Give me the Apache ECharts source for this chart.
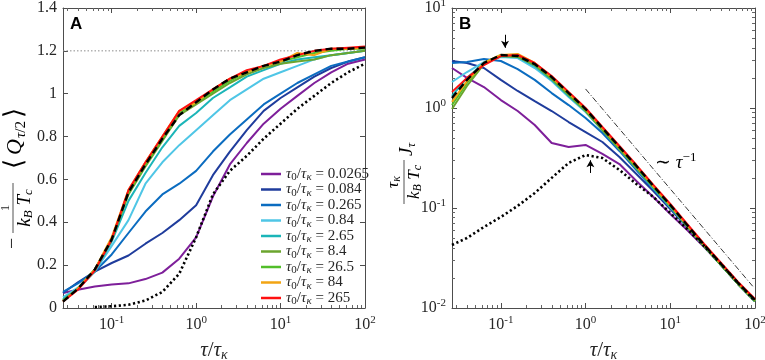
<!DOCTYPE html>
<html><head><meta charset="utf-8">
<script src="https://cdn.jsdelivr.net/npm/echarts@6/dist/echarts.min.js"></script>
<style>html,body{margin:0;padding:0;background:#fff}#c{width:765px;height:360px}</style>
</head><body><div id="c"></div>
<script>
// ---------------- DATA ----------------
const tau = [0.0265,0.0398,0.0631,0.1,0.158,0.251,0.398,0.631,1,1.58,2.51,3.98,6.31,10,15.8,25.1,39.8,63.1,100];
const ratios = ['0.0265','0.084','0.265','0.84','2.65','8.4','26.5','84','265'];
const colors = ['#7E1F9A','#1F3C9C','#0B6CC0','#4FC6E6','#1BB5B8','#6BA52E','#52BE2A','#F2A413','#FF1010'];

// Panel A: -<Q_{tau/2}>/(kB Tc)
const qA_0265 = [0.07,0.085,0.10,0.11,0.115,0.135,0.165,0.23,0.33,0.52,0.67,0.77,0.86,0.93,0.99,1.05,1.10,1.14,1.16];
const qA_084  = [0.07,0.12,0.17,0.21,0.245,0.30,0.35,0.41,0.48,0.62,0.73,0.83,0.92,0.98,1.03,1.08,1.12,1.15,1.17];
const qA_265m = [0.075,0.115,0.17,0.25,0.35,0.45,0.53,0.58,0.64,0.73,0.81,0.88,0.95,1.00,1.05,1.09,1.13,1.15,1.17];
const qA_84m  = [0.05,0.095,0.17,0.29,0.41,0.58,0.68,0.76,0.83,0.90,0.97,1.02,1.07,1.10,1.13,1.16,1.18,1.19,1.20];
const qA_265  = [0.04,0.09,0.17,0.31,0.50,0.63,0.75,0.85,0.91,0.98,1.03,1.08,1.11,1.14,1.16,1.17,1.18,1.19,1.20];
const qA_8p4  = [0.035,0.09,0.18,0.32,0.53,0.66,0.78,0.90,0.95,1.00,1.05,1.09,1.12,1.14,1.15,1.16,1.18,1.19,1.20];
const qA_26p5 = [0.035,0.09,0.18,0.32,0.54,0.67,0.79,0.91,0.96,1.01,1.06,1.10,1.13,1.15,1.17,1.19,1.20,1.21,1.21];
const qA_84   = [0.03,0.09,0.18,0.33,0.55,0.68,0.80,0.92,0.96,1.02,1.07,1.10,1.13,1.15,1.19,1.18,1.21,1.21,1.215];
const qA_265b = [0.03,0.085,0.175,0.32,0.55,0.68,0.80,0.92,0.97,1.02,1.07,1.11,1.13,1.16,1.18,1.20,1.21,1.215,1.22];
const qA_dash = [0.03,0.09,0.18,0.32,0.54,0.67,0.79,0.90,0.96,1.02,1.07,1.10,1.13,1.15,1.18,1.20,1.21,1.21,1.215];
const qA_dot  = [null,null,0.004,0.008,0.015,0.035,0.075,0.16,0.33,0.53,0.64,0.71,0.79,0.86,0.93,0.99,1.05,1.10,1.14];
const qA_limit = 1.2;

// Panel B: tau_k/(kB Tc) J_tau
const jB_0265 = [2.51,2.0,1.62,1.20,0.933,0.676,0.447,0.407,0.427,0.347,0.275,0.186,0.129,0.0871,0.0603,0.0407,0.0269,0.0174,0.0117];
const jB_084  = [2.95,2.82,2.51,1.91,1.48,1.17,0.933,0.724,0.575,0.457,0.324,0.219,0.148,0.0977,0.0646,0.0417,0.0269,0.0174,0.0117];
const jB_265m = [2.82,2.88,3.09,2.95,2.45,1.91,1.41,1.07,0.794,0.562,0.372,0.240,0.155,0.102,0.0661,0.0417,0.0269,0.0174,0.0117];
const jB_84m  = [1.82,2.29,2.88,3.24,3.16,2.51,1.86,1.29,0.912,0.603,0.389,0.251,0.158,0.102,0.0661,0.0417,0.0269,0.0174,0.0117];
const jB_265  = [1.32,2.0,2.82,3.31,3.24,2.63,1.91,1.32,0.933,0.603,0.389,0.251,0.158,0.102,0.0661,0.0417,0.0269,0.0174,0.0117];
const jB_8p4  = [0.977,1.66,2.75,3.31,3.24,2.69,1.95,1.35,0.933,0.603,0.389,0.251,0.162,0.105,0.0661,0.0417,0.0269,0.0174,0.0117];
const jB_26p5 = [1.07,1.78,2.82,3.39,3.31,2.75,2.0,1.38,0.955,0.617,0.398,0.257,0.162,0.105,0.0661,0.0417,0.0269,0.0174,0.0117];
const jB_84   = [1.15,1.86,2.82,3.39,3.47,2.82,2.04,1.41,0.977,0.631,0.407,0.263,0.166,0.107,0.0676,0.0427,0.0275,0.0178,0.0120];
const jB_265b = [1.45,2.0,2.69,3.31,3.39,2.82,2.09,1.45,1.0,0.646,0.417,0.269,0.170,0.110,0.0692,0.0437,0.0282,0.0182,0.0123];
const jB_dash = [1.26,1.91,2.82,3.39,3.31,2.75,2.04,1.41,0.977,0.631,0.407,0.263,0.166,0.107,0.0676,0.0427,0.0275,0.0178,0.0120];
const jB_dot  = [0.0427,0.0501,0.0646,0.0813,0.105,0.141,0.200,0.282,0.339,0.316,0.240,0.174,0.129,0.0891,0.0617,0.0417,0.0275,0.0178,0.0117];
const powerLawTau = [1, 94];
const powerLawJ = [1.55, 0.0165];
const arrowPeakTau = [0.112, 0.112], arrowPeakJ = [5.4, 4.0];
const arrowDotTau = [1.14, 1.14], arrowDotJ = [0.224, 0.30];

const xMin = 0.0265, xMax = 100;
const yBMin = 0.01, yBMax = 10;
const yATicks = [0,0.2,0.4,0.6,0.8,1,1.2,1.4];
const xMinor = [0.03,0.04,0.05,0.06,0.07,0.08,0.09,0.2,0.3,0.4,0.5,0.6,0.7,0.8,0.9,2,3,4,5,6,7,8,9,20,30,40,50,60,70,80,90];
const yBMinor = [0.02,0.03,0.04,0.05,0.06,0.07,0.08,0.09,0.2,0.3,0.4,0.5,0.6,0.7,0.8,0.9,2,3,4,5,6,7,8,9];

const seriesA = [qA_0265,qA_084,qA_265m,qA_84m,qA_265,qA_8p4,qA_26p5,qA_84,qA_265b];
const seriesB = [jB_0265,jB_084,jB_265m,jB_84m,jB_265,jB_8p4,jB_26p5,jB_84,jB_265b];

// ---------------- STYLE ----------------
const F = 'Liberation Serif';
const TC = '#262626';
const AX = '#4d4d4d';
const rich = {
  n: {fontFamily:F, fontSize:16, color:TC},
  i: {fontFamily:F, fontSize:16, fontStyle:'italic', color:TC},
  b: {fontFamily:F, fontSize:16, color:TC},
  sup: {fontFamily:F, fontSize:11, color:TC, padding:[0,0,10,0]},
  sub: {fontFamily:F, fontSize:11, color:TC, padding:[8,0,0,0]},
  subi: {fontFamily:F, fontSize:11, fontStyle:'italic', color:TC, padding:[8,0,0,0]}
};
const pow10Label = v => {
  const e = Math.round(Math.log10(v));
  if (Math.abs(Math.log10(v) - e) > 1e-6) return '';
  return '{b|10}{sup|' + e + '}';
};

function logX(grid, pos, labels) {
  return {
    type:'log', gridIndex:grid, position:pos, min:xMin, max:xMax, logBase:10,
    axisLine:{show:true, onZero:false, lineStyle:{color:AX, width:1}},
    axisTick:{show:true, inside:true, length:5, lineStyle:{color:AX}},
    axisLabel:{show:labels, margin:9, formatter:pow10Label, rich:rich, lineHeight:16},
    splitLine:{show:false}
  };
}
// decorative minor-tick axes (log-decade positions), no data bound
function minorAxis(grid, pos, lo, hi, vals) {
  return {
    type:'value', gridIndex:grid, position:pos, min:Math.log10(lo), max:Math.log10(hi),
    axisLine:{show:false, onZero:false}, axisLabel:{show:false}, splitLine:{show:false},
    axisTick:{show:true, inside:true, length:3, lineStyle:{color:'#666', width:1}, customValues:vals.map(v => Math.log10(v))}
  };
}
function logY(grid, pos, labels) {
  return {
    type:'log', gridIndex:grid, position:pos, min:yBMin, max:yBMax, logBase:10,
    axisLine:{show:true, onZero:false, lineStyle:{color:AX, width:1}},
    axisTick:{show:true, inside:true, length:5, lineStyle:{color:AX}},
    axisLabel:{show:labels, margin:6, formatter:pow10Label, rich:rich, lineHeight:16},
    splitLine:{show:false}
  };
}
const xName = '{i|τ}{n|/}{i|τ}{subi|κ}';
const xNameStyle = {rich:{
  n:{fontFamily:F, fontSize:21, color:TC},
  i:{fontFamily:F, fontSize:21, fontStyle:'italic', color:TC},
  subi:{fontFamily:F, fontSize:14, fontStyle:'italic', color:TC, padding:[9,0,0,0]}
}};

const xAxes = [
  Object.assign(logX(0,'bottom',true), {name:xName, nameLocation:'middle', nameGap:31, nameTextStyle:xNameStyle}),
  minorAxis(0,'bottom',xMin,xMax,xMinor),
  logX(0,'top',false),
  minorAxis(0,'top',xMin,xMax,xMinor),
  Object.assign(logX(1,'bottom',true), {name:xName, nameLocation:'middle', nameGap:31, nameTextStyle:xNameStyle}),
  minorAxis(1,'bottom',xMin,xMax,xMinor),
  logX(1,'top',false),
  minorAxis(1,'top',xMin,xMax,xMinor)
];
const linY = (pos, labels) => ({
  type:'value', gridIndex:0, position:pos, min:0, max:1.4, interval:0.2,
  axisLine:{show:true, onZero:false, lineStyle:{color:AX, width:1}},
  axisTick:{show:true, inside:true, length:5, lineStyle:{color:AX}},
  axisLabel:{show:labels, margin:6, fontFamily:F, fontSize:16, color:TC,
    formatter: v => yATicks.some(t => Math.abs(t - v) < 1e-9) ? String(+v.toFixed(1)) : ''},
  splitLine:{show:false}
});
const yAxes = [
  linY('left', true), linY('right', false),
  logY(1,'left',true), minorAxis(1,'left',yBMin,yBMax,yBMinor),
  logY(1,'right',false), minorAxis(1,'right',yBMin,yBMax,yBMinor)
];

const series = [];
seriesA.forEach((arr, k) => series.push({
  type:'line', name:ratios[k], xAxisIndex:0, yAxisIndex:0, symbol:'none', silent:true,
  data: tau.map((t, j) => [t, arr[j]]), lineStyle:{color:colors[k], width:2}, itemStyle:{color:colors[k]}, z:2
}));
series.push({type:'line', xAxisIndex:0, yAxisIndex:0, symbol:'none', silent:true,
  data:[[xMin,qA_limit],[xMax,qA_limit]], lineStyle:{color:'#8c8c8c', width:1, type:[1.5,2]}, z:1});
series.push({type:'line', xAxisIndex:0, yAxisIndex:0, symbol:'none', silent:true, connectNulls:false,
  data: tau.map((t, j) => [t, qA_dot[j]]), lineStyle:{color:'#000', width:2.6, type:[2.2,2.6]}, z:3});
series.push({type:'line', xAxisIndex:0, yAxisIndex:0, symbol:'none', silent:true,
  data: tau.map((t, j) => [t, qA_dash[j]]), lineStyle:{color:'#000', width:2.4, type:[7,4]}, z:4});

seriesB.forEach((arr, k) => series.push({
  type:'line', name:ratios[k], xAxisIndex:4, yAxisIndex:2, symbol:'none', silent:true,
  data: tau.map((t, j) => [t, arr[j]]), lineStyle:{color:colors[k], width:2}, itemStyle:{color:colors[k]}, z:2
}));
series.push({type:'line', xAxisIndex:4, yAxisIndex:2, symbol:'none', silent:true,
  data: tau.map((t, j) => [t, jB_dot[j]]), lineStyle:{color:'#000', width:2.6, type:[2.2,2.6]}, z:3});
series.push({type:'line', xAxisIndex:4, yAxisIndex:2, symbol:'none', silent:true,
  data: tau.map((t, j) => [t, jB_dash[j]]), lineStyle:{color:'#000', width:2.4, type:[7,4]}, z:4});
series.push({type:'line', xAxisIndex:4, yAxisIndex:2, symbol:'none', silent:true,
  data: powerLawTau.map((t, j) => [t, powerLawJ[j]]), lineStyle:{color:'#000', width:0.8, type:[6,2,1,2]}, z:5,
  markLine:{silent:true, symbol:['none','arrow'], symbolSize:[6,7], label:{show:false},
    lineStyle:{color:'#000', width:1, type:'solid'},
    data:[
      [{coord:[arrowPeakTau[0], arrowPeakJ[0]]},{coord:[arrowPeakTau[1], arrowPeakJ[1]]}],
      [{coord:[arrowDotTau[0], arrowDotJ[0]]},{coord:[arrowDotTau[1], arrowDotJ[1]]}]
    ]}
});

// ---------------- TEXT GRAPHICS ----------------
const gRich = {
  n:{fontFamily:F, fontSize:19, color:TC},
  i:{fontFamily:F, fontSize:19, fontStyle:'italic', color:TC},
  sup:{fontFamily:F, fontSize:13, color:TC, padding:[0,0,11,0]},
  subi:{fontFamily:F, fontSize:13, fontStyle:'italic', color:TC, padding:[10,0,0,0]}
};
const qRich = {
  lb:{fontFamily:F, fontSize:26, color:TC, padding:[0,3,0,0]},
  rb:{fontFamily:F, fontSize:26, color:TC, padding:[0,0,0,3]},
  i:{fontFamily:F, fontSize:22, fontStyle:'italic', color:TC, padding:[0,1,0,1]},
  subi:{fontFamily:F, fontSize:15, fontStyle:'italic', color:TC, padding:[12,0,0,0]},
  subn:{fontFamily:F, fontSize:15, color:TC, padding:[12,0,0,0]}
};
const fracRich = {
  i:{fontFamily:F, fontSize:19, fontStyle:'italic', color:TC},
  n:{fontFamily:F, fontSize:19, color:TC},
  subi:{fontFamily:F, fontSize:13, fontStyle:'italic', color:TC, padding:[8,0,0,0]}
};
const fracRichB = {
  i:{fontFamily:F, fontSize:17, fontStyle:'italic', color:TC},
  subi:{fontFamily:F, fontSize:12, fontStyle:'italic', color:TC, padding:[7,0,0,0]}
};
const graphic = [
  {type:'text', left:70, top:16, style:{text:'A', font:'bold 17px "Liberation Sans"', fill:'#000'}},
  {type:'text', left:459, top:16, style:{text:'B', font:'bold 17px "Liberation Sans"', fill:'#000'}},
  {type:'text', x:655, y:163, style:{text:'{n|∼ }{i|τ}{sup|−1}', rich:gRich, verticalAlign:'middle', align:'left'}},
  // y title A (rotated, reads bottom-to-top); local x = 165 - screen y
  {type:'group', x:13, y:165, rotation:Math.PI/2, children:[
    {type:'text', x:-84, y:0, style:{text:'−', font:'20px "Liberation Serif"', fill:TC, align:'left', verticalAlign:'middle'}},
    {type:'text', x:-43, y:-1, style:{text:'1', font:'13px "Liberation Serif"', fill:TC, align:'center', verticalAlign:'bottom'}},
    {type:'line', shape:{x1:-68, y1:0, x2:-18, y2:0}, style:{stroke:TC, lineWidth:0.8}},
    {type:'text', x:-43, y:1, style:{text:'{i|k}{subi|B}{i| T}{subi|c}', rich:fracRich, align:'center', verticalAlign:'top'}},
    {type:'text', x:-4, y:2, style:{text:'{lb|⟨}{i|Q}{subi|τ}{subn|/2}{rb|⟩}', rich:qRich, align:'left', verticalAlign:'middle'}}
  ]},
  // y title B (rotated)
  {type:'group', x:404, y:160, rotation:Math.PI/2, children:[
    {type:'text', x:-22, y:-1, style:{text:'{i|τ}{subi|κ}', rich:fracRichB, align:'center', verticalAlign:'bottom'}},
    {type:'line', shape:{x1:-44, y1:0, x2:0, y2:0}, style:{stroke:TC, lineWidth:0.8}},
    {type:'text', x:-22, y:1, style:{text:'{i|k}{subi|B}{i| T}{subi|c}', rich:fracRichB, align:'center', verticalAlign:'top'}},
    {type:'text', x:4, y:3, style:{text:'{i|J}{subi|τ}', rich:gRich, align:'left', verticalAlign:'middle'}}
  ]}
];

const chart = echarts.init(document.getElementById('c'), null, {renderer:'canvas'});
chart.setOption({
  animation:false,
  backgroundColor:'#fff',
  grid:[
    {left:63, top:8, width:302, height:300, containLabel:false, outerBoundsMode:'none'},
    {left:452, top:8, width:303, height:300, containLabel:false, outerBoundsMode:'none'}
  ],
  xAxis:xAxes,
  yAxis:yAxes,
  legend:{
    show:true, orient:'vertical', left:261, top:165, itemWidth:20, itemHeight:2.5, itemGap:-2.5, icon:'rect',
    data:ratios, selectedMode:false, padding:0,
    formatter: nm => '{i|τ}{sub|0}{n|/}{i|τ}{subi|κ}{n| = ' + nm + '}',
    textStyle:{fontFamily:F, fontSize:15, lineHeight:15, color:TC, rich:{
      n: {fontFamily:F, fontSize:15, color:TC, lineHeight:15},
      i: {fontFamily:F, fontSize:15, fontStyle:'italic', color:TC, lineHeight:15},
      sub: {fontFamily:F, fontSize:11, color:TC, padding:[7,0,0,0], lineHeight:15},
      subi: {fontFamily:F, fontSize:11, fontStyle:'italic', color:TC, padding:[7,0,0,0], lineHeight:15}
    }}
  },
  series:series,
  graphic:graphic
});
</script></body></html>
